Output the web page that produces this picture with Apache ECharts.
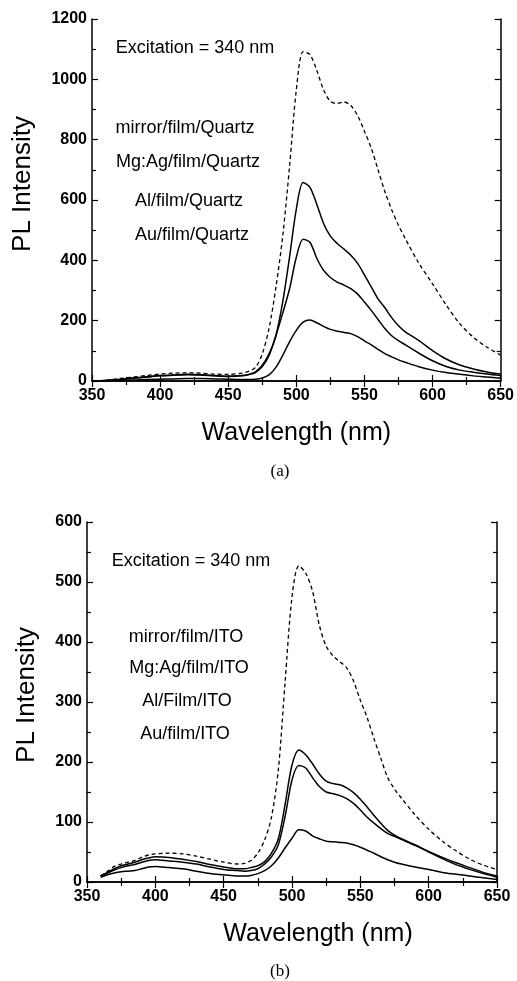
<!DOCTYPE html>
<html>
<head>
<meta charset="utf-8">
<script src="https://cdn.jsdelivr.net/npm/echarts@6/dist/echarts.min.js"></script>
<style>
html,body{margin:0;padding:0;background:#fff;}
#chart{width:517px;height:981px;}
</style>
</head>
<body>
<div id="chart"></div>
<script>
// ---- Panel (a): film on Quartz ----
const wlA = [350,360,370,380,390,400,410,420,430,440,450,460,465,470,475,480,485,490,495,500,505,510,515,520,525,530,535,540,545,550,555,560,565,570,575,580,590,600,610,620,630,640,650];
const mirrorA = [0,2,8,13,18,23,26,27,26,23,22,26,32,45,90,175,310,480,710,965,1092,1082,1030,965,927,920,925,913,880,828,772,700,628,568,516,472,390,322,252,190,145,112,86];
const mgagA = [0,2,5,10,14,18,20,22,21,18,16,18,22,30,52,90,150,262,410,570,658,642,586,522,480,456,437,417,390,352,312,272,243,210,183,163,134,101,73,53,40,30,23];
const alA = [0,2,5,9,13,17,19,21,20,17,15,17,21,28,48,85,150,225,305,410,470,460,407,367,343,328,318,306,288,262,234,204,174,150,134,120,92,67,48,36,29,23,18];
const auA = [0,1,2,3,5,6,7,8,8,7,6,5,5,6,10,20,45,85,130,168,195,202,193,181,171,165,161,157,147,133,120,105,91,80,70,62,47,36,28,22,17,13,9];
const labelsA = ['mirror/film/Quartz','Mg:Ag/film/Quartz','Al/film/Quartz','Au/film/Quartz'];

// ---- Panel (b): film on ITO ----
const wlB = [360,365,370,375,380,385,390,395,400,410,420,430,440,450,460,465,470,475,480,485,490,495,500,505,510,515,520,525,530,535,540,545,550,555,560,565,570,575,580,590,600,610,620,630,640,650];
const mirrorB = [10,18,26,30,33,36,41,45,47,48,47,43,38,33,30,31,36,48,70,108,187,335,475,527,515,485,428,393,377,367,357,335,303,274,239,206,174,155,140,112,88,68,52,38,28,21];
const mgagB = [10,16,22,27,30,33,37,40,42,41,38,34,29,25,22,22,24,27,34,48,72,130,195,220,212,197,180,168,164,162,157,149,138,125,111,98,86,78,72,62,51,41,32,24,16,10];
const alB = [10,15,20,24,27,29,33,36,37,35,33,30,25,21,19,18,19,22,30,42,62,110,170,194,190,174,159,150,147,144,139,131,120,108,98,89,81,76,71,61,50,39,29,21,14,8];
const auB = [8,12,15,17,18,19,22,25,26,24,22,18,14,12,10,10,11,14,19,27,40,57,73,87,85,77,72,68,67,66,65,62,58,53,48,42,37,33,30,25,21,16,13,10,7,4];
const labelsB = ['mirror/film/ITO','Mg:Ag/film/ITO','Al/Film/ITO','Au/film/ITO'];

const excitationText = 'Excitation = 340 nm';
const xTitle = 'Wavelength (nm)';
const yTitle = 'PL Intensity';

const SANS = "'Liberation Sans', Arial, sans-serif";
const zip = (xs, ys) => xs.map((x, i) => [x, ys[i]]);
const plain = v => String(v);

function mainX(gi, padLeft) {
  return {
    type: 'value', gridIndex: gi, position: 'bottom', min: 350, max: 650, interval: 50,
    name: xTitle, nameLocation: 'middle', nameGap: 40,
    nameTextStyle: { fontFamily: SANS, fontSize: 25, color: '#000', padding: [0, 0, 0, padLeft] },
    axisLine: { show: true, lineStyle: { color: '#000', width: 1.5 } },
    axisTick: { inside: true, length: 6, lineStyle: { color: '#000', width: 1.2 } },
    minorTick: { show: true, splitNumber: 2, length: 4, lineStyle: { color: '#000', width: 1.2 } },
    axisLabel: { fontFamily: SANS, fontSize: 16, fontWeight: 'bold', color: '#000', margin: 7, formatter: plain },
    splitLine: { show: false }
  };
}
function topX(gi) {
  return {
    type: 'value', gridIndex: gi, position: 'top', min: 350, max: 650, interval: 50,
    axisLine: { show: true, lineStyle: { color: '#000', width: 1.5 } },
    axisTick: { inside: true, length: 6, lineStyle: { color: '#000', width: 1.2 } },
    minorTick: { show: true, splitNumber: 2, length: 4, lineStyle: { color: '#000', width: 1.2 } },
    axisLabel: { show: false }, splitLine: { show: false }
  };
}
function mainY(gi, max, interval, gap, padLeft) {
  return {
    type: 'value', gridIndex: gi, position: 'left', min: 0, max: max, interval: interval,
    name: yTitle, nameLocation: 'middle', nameGap: gap, nameRotate: 90,
    nameTextStyle: { fontFamily: SANS, fontSize: 26, color: '#000', padding: [0, 0, 0, padLeft] },
    axisLine: { show: true, lineStyle: { color: '#000', width: 1.5 } },
    axisTick: { inside: true, length: 6, lineStyle: { color: '#000', width: 1.2 } },
    minorTick: { show: true, splitNumber: 2, length: 4, lineStyle: { color: '#000', width: 1.2 } },
    axisLabel: { fontFamily: SANS, fontSize: 16, fontWeight: 'bold', color: '#000', margin: 5, formatter: plain },
    splitLine: { show: false }
  };
}
function rightY(gi, max, interval) {
  return {
    type: 'value', gridIndex: gi, position: 'right', min: 0, max: max, interval: interval,
    axisLine: { show: true, lineStyle: { color: '#000', width: 1.5 } },
    axisTick: { inside: true, length: 6, lineStyle: { color: '#000', width: 1.2 } },
    minorTick: { show: true, splitNumber: 2, length: 4, lineStyle: { color: '#000', width: 1.2 } },
    axisLabel: { show: false }, splitLine: { show: false }
  };
}
function line(name, wl, vals, axisIdx, dashed) {
  return {
    type: 'line', name: name, xAxisIndex: axisIdx, yAxisIndex: axisIdx,
    data: zip(wl, vals), showSymbol: false, symbol: 'none', smooth: 0.3,
    lineStyle: { color: '#000', width: dashed ? 1.3 : 1.5, type: dashed ? [4, 3] : 'solid' },
    silent: true, z: 3
  };
}
function txt(text, x, y, size, family) {
  return {
    type: 'text', x: x, y: y, silent: true,
    style: { text: text, fill: '#000', font: size + 'px ' + (family || SANS), align: 'center', verticalAlign: 'middle' }
  };
}

const chart = echarts.init(document.getElementById('chart'), null, { renderer: 'canvas' });
chart.setOption({
  backgroundColor: '#fff',
  animation: false,
  grid: [
    { left: 92, top: 19, width: 410, height: 362 },
    { left: 87, top: 522, width: 410, height: 360 }
  ],
  xAxis: [mainX(0, 0), topX(0), mainX(1, 52), topX(1)],
  yAxis: [mainY(0, 1200, 200, 56, 32), rightY(0, 1200, 200), mainY(1, 600, 100, 47, 14), rightY(1, 600, 100)],
  series: [
    line(labelsA[0], wlA, mirrorA, 0, true),
    line(labelsA[1], wlA, mgagA, 0, false),
    line(labelsA[2], wlA, alA, 0, false),
    line(labelsA[3], wlA, auA, 0, false),
    line(labelsB[0], wlB, mirrorB, 2, true),
    line(labelsB[1], wlB, mgagB, 2, false),
    line(labelsB[2], wlB, alB, 2, false),
    line(labelsB[3], wlB, auB, 2, false)
  ],
  graphic: [
    txt(excitationText, 195, 48, 18),
    txt(labelsA[0], 185, 128, 18),
    txt(labelsA[1], 188, 162, 18),
    txt(labelsA[2], 189, 201, 18),
    txt(labelsA[3], 192, 235, 18),
    txt('(a)', 280, 472, 17, "'Liberation Serif', 'Times New Roman', serif"),
    txt(excitationText, 191, 561, 18),
    txt(labelsB[0], 186, 637, 18),
    txt(labelsB[1], 189, 668, 18),
    txt(labelsB[2], 187, 701, 18),
    txt(labelsB[3], 185, 734, 18),
    txt('(b)', 280, 972, 17, "'Liberation Serif', 'Times New Roman', serif")
  ]
});
</script>
</body>
</html>
